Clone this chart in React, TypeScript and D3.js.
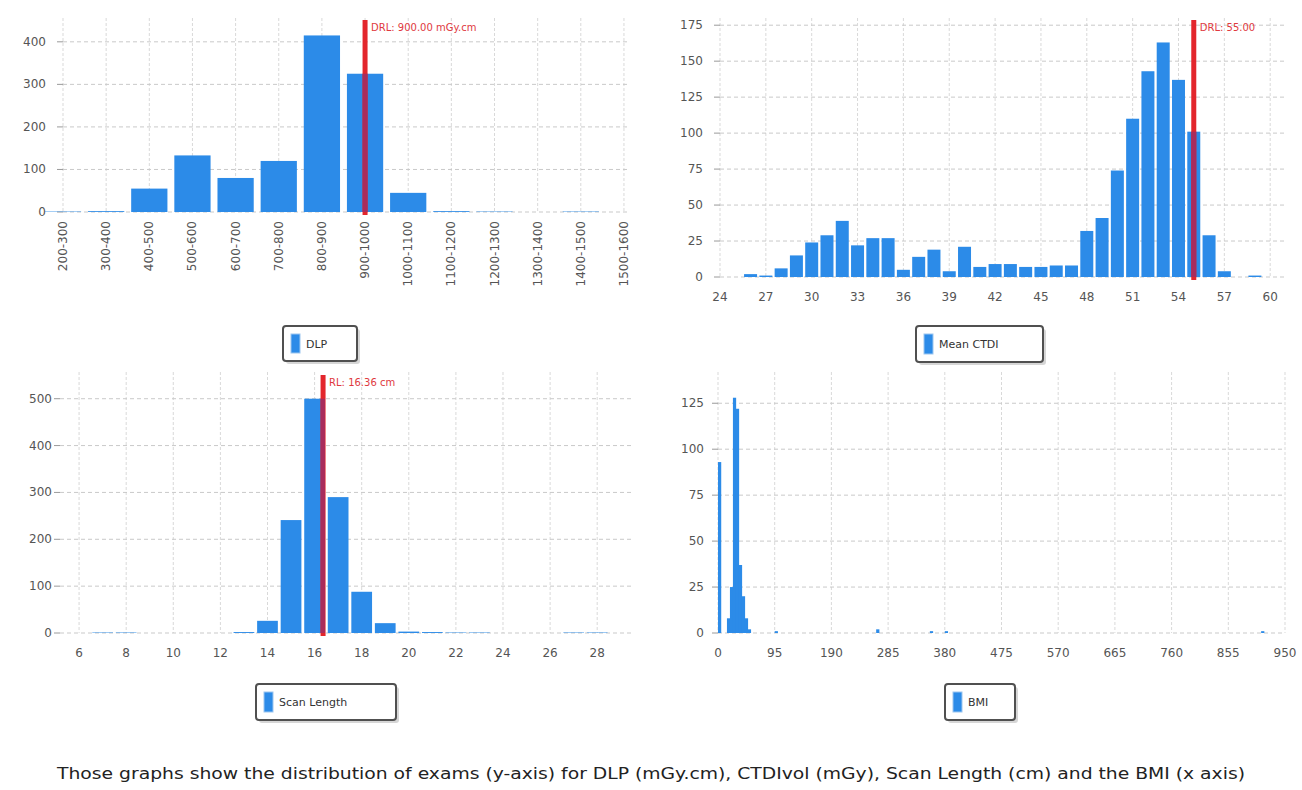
import React from 'react';
import * as d3 from 'd3';

// DLP (mGy.cm) histogram
const dlpLabels = ['200-300', '300-400', '400-500', '500-600', '600-700', '700-800', '800-900',
  '900-1000', '1000-1100', '1100-1200', '1200-1300', '1300-1400', '1400-1500', '1500-1600'];
const dlpCounts = [1, 2, 55, 133, 80, 120, 415, 325, 45, 2, 1, 0, 1, 0];
const dlpYTicks = [0, 100, 200, 300, 400];

// Mean CTDIvol (mGy)
const ctdiBins = [26, 27, 28, 29, 30, 31, 32, 33, 34, 35, 36, 37, 38, 39, 40, 41, 42,
  43, 44, 45, 46, 47, 48, 49, 50, 51, 52, 53, 54, 55, 56, 57, 58, 59];
const ctdiCounts = [2, 1, 6, 15, 24, 29, 39, 22, 27, 27, 5, 14, 19, 4, 21, 7, 9,
  9, 7, 7, 8, 8, 32, 41, 74, 110, 143, 163, 137, 101, 29, 4, 0, 1];
const ctdiXTicks = [24, 27, 30, 33, 36, 39, 42, 45, 48, 51, 54, 57, 60];
const ctdiYTicks = [0, 25, 50, 75, 100, 125, 150, 175];

// Scan length (cm)
const scanBins = [7, 8, 13, 14, 15, 16, 17, 18, 19, 20, 21, 22, 23, 27, 28];
const scanCounts = [1, 1, 2, 26, 241, 500, 290, 88, 21, 3, 2, 1, 1, 1, 1];
const scanXTicks = [6, 8, 10, 12, 14, 16, 18, 20, 22, 24, 26, 28];
const scanYTicks = [0, 100, 200, 300, 400, 500];

// BMI (bins of 5)
const bmiBins = [0, 15, 20, 25, 30, 35, 40, 45, 50, 95, 265, 355, 380, 910];
const bmiCounts = [93, 8, 25, 128, 122, 37, 20, 8, 2, 1, 2, 1, 1, 1];
const bmiXTicks = [0, 95, 190, 285, 380, 475, 570, 665, 760, 855, 950];
const bmiYTicks = [0, 25, 50, 75, 100, 125];

const BLUE = '#2c8be8';
const RED = '#e3262c';
const OVER = '#a92c5c';
const FONT = 'DejaVu Sans, sans-serif';

const dlpStarts = dlpLabels.map((l) => +l.split('-')[0]);

const panels = [
  {
    id: 'dlp', left: 63, right: 630, top: 18, bottom: 212,
    xDomain: [200, 1514], yDomain: [0, 456],
    bins: dlpStarts, counts: dlpCounts, barW: 84, shift: -42,
    xTicks: dlpStarts, xLabels: dlpLabels, rotate: true, yTicks: dlpYTicks, yGap: 17,
    ref: 900, refTop: 20, refLabel: 'DRL: 900.00 mGy.cm',
    legend: { x: 283, y: 326, w: 74, h: 35, text: 'DLP' },
  },
  {
    id: 'ctdi', left: 720, right: 1287, top: 18, bottom: 277,
    xDomain: [24, 61.1], yDomain: [0, 180],
    bins: ctdiBins, counts: ctdiCounts, barW: 0.85, shift: -0.425,
    xTicks: ctdiXTicks, xLabels: ctdiXTicks.map(String), rotate: false, yTicks: ctdiYTicks, yGap: 17,
    ref: 55, refTop: 20, refLabel: 'DRL: 55.00',
    legend: { x: 916, y: 326, w: 127, h: 36, text: 'Mean CTDI' },
  },
  {
    id: 'scan', left: 60, right: 633, top: 372, bottom: 633,
    xDomain: [5.19, 29.52], yDomain: [0, 557],
    bins: scanBins, counts: scanCounts, barW: 0.88, shift: -0.44,
    xTicks: scanXTicks, xLabels: scanXTicks.map(String), rotate: false, yTicks: scanYTicks, yGap: 8,
    ref: 16.36, refTop: 375, refLabel: 'RL: 16.36 cm',
    legend: { x: 256, y: 684, w: 140, h: 36, text: 'Scan Length' },
  },
  {
    id: 'bmi', left: 718, right: 1285, top: 372, bottom: 633,
    xDomain: [0, 950], yDomain: [0, 142],
    bins: bmiBins, counts: bmiCounts, barW: 5.4, shift: 0,
    xTicks: bmiXTicks, xLabels: bmiXTicks.map(String), rotate: false, yTicks: bmiYTicks, yGap: 14,
    ref: null, refTop: 0, refLabel: '',
    legend: { x: 945, y: 684, w: 70, h: 36, text: 'BMI' },
  },
];

function Panel({ p }: { p: any }) {
  const xs = d3.scaleLinear().domain(p.xDomain).range([p.left, p.right]);
  const ys = d3.scaleLinear().domain(p.yDomain).range([p.bottom, p.top]);
  const bars = p.bins.map((b: number, i: number) => {
    const x0 = xs(b + p.shift);
    const x1 = xs(b + p.shift + p.barW);
    return { x: x0, w: Math.max(x1 - x0, 1), y: ys(p.counts[i]), h: ys(0) - ys(p.counts[i]) };
  });
  const refX = p.ref != null ? xs(p.ref) : 0;
  const rl = refX - 2.5;
  const rr = refX + 2.5;
  // parts of the reference line that lie over a bar are drawn darker
  const overlaps = p.ref == null ? [] : bars
    .filter((b: any) => b.h > 0 && b.x < rr && b.x + b.w > rl)
    .map((b: any) => ({ x: Math.max(b.x, rl), w: Math.min(b.x + b.w, rr) - Math.max(b.x, rl), y: b.y, h: b.h }));
  const lg = p.legend;
  return (
    <g>
      {p.xTicks.map((t: number) => (
        <line key={'vx' + t} x1={xs(t)} x2={xs(t)} y1={p.top} y2={p.bottom}
          stroke="#d9d9d9" strokeDasharray="3,2" />
      ))}
      {p.yTicks.map((t: number) => (
        <g key={'hy' + t}>
          <line x1={p.left} x2={p.right} y1={ys(t)} y2={ys(t)} stroke="#c9c9c9" strokeDasharray="4,3" />
          <line x1={p.left - 6} x2={p.left} y1={ys(t)} y2={ys(t)} stroke="#9a9a9a" />
          <text x={p.left - p.yGap} y={ys(t) + 4} textAnchor="end" fontSize={12} fill="#555">{t}</text>
        </g>
      ))}
      {bars.map((b: any, i: number) => (
        <rect key={'b' + i} x={b.x} y={b.y} width={b.w} height={b.h} fill={BLUE} />
      ))}
      {p.xTicks.map((t: number, i: number) =>
        p.rotate ? (
          <text key={'xl' + t} transform={`translate(${xs(t) + 4},${p.bottom + 9}) rotate(-90)`}
            textAnchor="end" fontSize={12} fill="#555">{p.xLabels[i]}</text>
        ) : (
          <text key={'xl' + t} x={xs(t)} y={p.bottom + 24} textAnchor="middle" fontSize={12} fill="#555">
            {p.xLabels[i]}
          </text>
        ))}
      {p.ref != null && (
        <g>
          <rect x={rl} y={p.refTop} width={5} height={p.bottom + 3 - p.refTop} fill={RED} />
          {overlaps.map((o: any, i: number) => (
            <rect key={'o' + i} x={o.x} y={o.y} width={o.w} height={o.h} fill={OVER} />
          ))}
          <text x={refX + 6} y={p.refTop + 11} fontSize={10} fill="#e0393e">{p.refLabel}</text>
        </g>
      )}
      <rect x={lg.x + 3} y={lg.y + 3} width={lg.w} height={lg.h} rx={3} fill="#bbb" opacity={0.6} />
      <rect x={lg.x} y={lg.y} width={lg.w} height={lg.h} rx={3} fill="#fff" stroke="#505050" strokeWidth={2} />
      <rect x={lg.x + 8} y={lg.y + 8} width={9} height={lg.h - 16} fill={BLUE} stroke="#9cc6f0" strokeWidth={1} />
      <text x={lg.x + 23} y={lg.y + lg.h / 2 + 4} fontSize={11} fill="#333">{lg.text}</text>
    </g>
  );
}

export default function App() {
  return (
    <svg width={1302} height={790} style={{ position: 'absolute', left: 0, top: 0, background: '#fff' }}
      fontFamily={FONT}>
      <rect width={1302} height={790} fill="#fff" />
      {panels.map((p) => <Panel key={p.id} p={p} />)}
      <text x={57} y={779} fontSize={16} fill="#222" textLength={1188} lengthAdjust="spacingAndGlyphs">
        Those graphs show the distribution of exams (y-axis) for DLP (mGy.cm), CTDIvol (mGy), Scan Length (cm) and the BMI (x axis)
      </text>
    </svg>
  );
}
